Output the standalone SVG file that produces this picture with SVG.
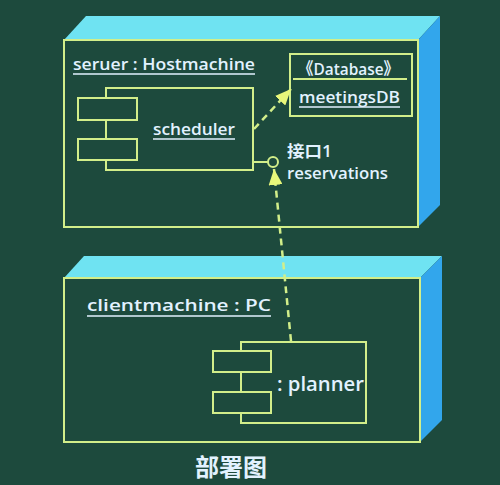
<svg xmlns="http://www.w3.org/2000/svg" width="500" height="485" viewBox="0 0 500 485">
<defs>
<style>
.bg{fill:#1d4a3d}
.front{fill:#1d4a3d;stroke:#d2ee8a;stroke-width:2}
.top{fill:#6fe3f2}
.side{fill:#32a6ec}
.box{fill:none;stroke:#d2ee8a;stroke-width:2}
.boxf{fill:#1d4a3d;stroke:#d2ee8a;stroke-width:2}
.lbl{font-family:"Open Sans","Noto Sans","Noto Sans CJK SC",sans-serif;fill:#e2f2ff;font-size:17px;font-weight:600}
.ul{stroke:#e2f2ff;stroke-width:1.4}
.dash{fill:none;stroke:#d2ee8a;stroke-width:2.5;stroke-dasharray:7 5}
</style>
<marker id="arr" viewBox="0 0 10 10" refX="10" refY="5" markerWidth="16" markerHeight="14" markerUnits="userSpaceOnUse" orient="auto" preserveAspectRatio="none">
<path d="M0,0 L10,5 L0,10 z" fill="#e8f77a"/>
</marker>
</defs>
<rect class="bg" x="0" y="0" width="500" height="485"/>

<g id="server">
<polygon class="top" points="64,40 86,16 440,16 418,40"/>
<polygon class="side" points="418,40 440,16 440,205 418,227"/>
<rect class="front" x="64" y="40" width="354" height="187"/>
<text class="lbl" x="73" y="70" textLength="182" lengthAdjust="spacingAndGlyphs">seruer : Hostmachine</text>
<line class="ul" x1="73" y1="74" x2="255" y2="74"/>
</g>

<g id="meetingsDB">
<rect class="box" x="290" y="54" width="122" height="62"/>
<line class="box" x1="293" y1="79" x2="407" y2="79"/>
<text class="lbl" x="298" y="75" textLength="101" lengthAdjust="spacingAndGlyphs">《Database》</text>
<text class="lbl" x="299" y="103" textLength="101" lengthAdjust="spacingAndGlyphs">meetingsDB</text>
<line class="ul" x1="299" y1="107" x2="400" y2="107"/>
</g>

<g id="scheduler">
<rect class="box" x="106" y="88" width="147" height="82"/>
<rect class="boxf" x="78" y="98" width="59" height="22"/>
<rect class="boxf" x="78" y="139" width="59" height="21"/>
<text class="lbl" x="153" y="135" textLength="82" lengthAdjust="spacingAndGlyphs">scheduler</text>
<line class="ul" x1="153" y1="139" x2="235" y2="139"/>
</g>

<g id="interface">
<line class="box" x1="253" y1="162" x2="268" y2="162"/>
<circle cx="273" cy="162" r="5" fill="#1d4a3d" stroke="#d2ee8a" stroke-width="2"/>
<text class="lbl" x="287" y="157" style="font-size:16px" textLength="45" lengthAdjust="spacingAndGlyphs">接口1</text>
<text class="lbl" x="287" y="179" style="font-size:16px" textLength="101" lengthAdjust="spacingAndGlyphs">reservations</text>
</g>

<g id="client">
<polygon class="top" points="64,278 84,256 442,256 420,278"/>
<polygon class="side" points="420,278 442,256 442,420 420,442"/>
<rect class="front" x="64" y="278" width="356" height="164"/>
<text class="lbl" x="87" y="311" textLength="184" lengthAdjust="spacingAndGlyphs">clientmachine : PC</text>
<line class="ul" x1="87" y1="316" x2="271" y2="316"/>
</g>

<g id="planner">
<rect class="box" x="241" y="342" width="125" height="81"/>
<rect class="boxf" x="213" y="351" width="58" height="21"/>
<rect class="boxf" x="213" y="392" width="58" height="21"/>
<text class="lbl" x="277" y="391" style="font-size:20px" textLength="87" lengthAdjust="spacingAndGlyphs">: planner</text>
</g>

<g id="connectors">
<line class="dash" x1="254" y1="129" x2="291" y2="89" marker-end="url(#arr)"/>
<line class="dash" x1="291" y1="341" x2="274" y2="169" marker-end="url(#arr)"/>
</g>

<text class="lbl" x="231" y="476" text-anchor="middle" style="font-size:24px">部署图</text>
</svg>
